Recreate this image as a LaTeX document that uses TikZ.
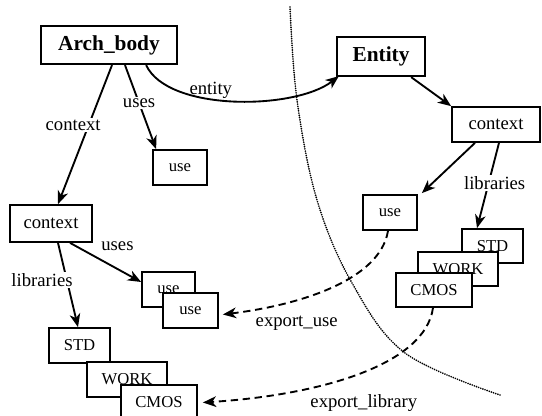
\documentclass[tikz,border=0pt]{standalone}
\usepackage{fontspec}
\setmainfont{Liberation Serif}
\usetikzlibrary{arrows.meta,calc}
\begin{document}
\begin{tikzpicture}[x=0.75pt,y=-0.75pt,
 box/.style={draw,line width=1.3pt,fill=white,inner sep=0pt,minimum height=26.25pt,font=\fontsize{12.5}{13}\selectfont},
 ctxbox/.style={box,font=\fontsize{14}{15}\selectfont},
 titlebox/.style={draw,line width=1.7pt,fill=white,inner sep=0pt,font=\fontsize{16}{17}\selectfont\bfseries},
 lbl/.style={font=\fontsize{14}{15}\selectfont,inner sep=1pt},
 wlbl/.style={lbl,fill=white},
 arr/.style={line width=1.4pt,-{Stealth[length=10pt,width=8pt,inset=3pt]}},
 darr/.style={arr,dash pattern=on 5.5pt off 3.5pt},
 sep/.style={line width=1.4pt,line cap=round,dash pattern=on 0pt off 1.7pt},
]
\useasboundingbox (0,0) rectangle (542,416);
% separator
\draw[sep] plot[smooth,tension=0.6] coordinates {(290,7) (297,100) (317,200) (352,283) (405,353) (500,395)};
% boxes
\node[titlebox,minimum width=102pt,minimum height=28.5pt] (arch) at (109,45) {Arch\_body};
\node[titlebox,minimum width=66pt,minimum height=29.25pt] (entity) at (381,56.5) {Entity};
\node[ctxbox,minimum width=66pt] (rctx) at (496,124.5) {context};
\node[box,minimum width=40.5pt] (use1) at (180,167.5) {use};
\node[ctxbox,minimum width=61.5pt,minimum height=27.75pt] (lctx) at (51,223.5) {context};
\node[box,minimum width=39.75pt] (usea) at (168.5,289.5) {use};
\node[box,minimum width=41.25pt] (useb) at (190.5,310.5) {use};
\node[box,minimum width=45.75pt] (lstd) at (79.5,345.5) {STD};
\node[box,minimum width=60pt] (lwork) at (127,379.5) {WORK};
\node[box,minimum width=57pt] (lcmos) at (159,402.5) {CMOS};
\node[box,minimum width=40.5pt] (ruse) at (390,212.5) {use};
\node[box,minimum width=45.75pt,minimum height=25.5pt] (rstd) at (492.5,246) {STD};
\node[box,minimum width=60pt,minimum height=25.5pt] (rwork) at (458,269) {WORK};
\node[box,minimum width=57pt,minimum height=25.5pt] (rcmos) at (434,290) {CMOS};
% connectors
\draw[arr] ($(arch.south)+(3,0)$) -- node[wlbl,pos=.43,xshift=-11.7pt] (lb1) {context} ($(lctx.north)+(7,0)$);
\draw[arr] ($(arch.south)+(16,0)$) -- node[wlbl,pos=.45] (lb2) {uses} ($(use1.north west)+(4,0)$);
\draw[arr] ($(arch.south east)+(-32,0)$) .. controls (168,112) and (295,110) .. node[lbl,pos=.4,above=-1pt] (lb3) {entity} ($(entity.south west)+(3,-1)$);
\draw[arr] ($(entity.south east)+(-15,0)$) -- (rctx.north west);
\draw[arr] ($(rctx.south)+(-21,0)$) -- ($(ruse.north east)+(4,-1)$);
\draw[arr] ($(rctx.south)+(3,0)$) -- node[wlbl,pos=.47,xshift=4.5pt] (lb4) {libraries} ($(rstd.north)+(-15.5,0)$);
\draw[arr] ($(lctx.south)+(19,0)$) -- node[lbl,pos=.667,yshift=17pt] (lb5) {uses} ($(usea.west)+(0,-7.5)$);
\draw[arr] ($(lctx.south)+(7,0)$) -- node[wlbl,pos=.44,xshift=-18.6pt] (lb6) {libraries} ($(lstd.north)+(-1.5,0)$);
\draw[darr] ($(ruse.south)+(-2,0)$) .. controls (380,280) and (300,305) .. node[lbl,pos=.72,xshift=7.5pt,yshift=-15.75pt] (lb7) {export\_use} ($(useb.east)+(4,4)$);
\draw[darr] ($(rcmos.south)+(-1,0)$) .. controls (425,365) and (320,395) .. node[lbl,pos=.5,xshift=3.75pt,yshift=-22pt] (lb8) {export\_library} ($(lcmos.east)+(5,0)$);
\end{tikzpicture}
\end{document}
